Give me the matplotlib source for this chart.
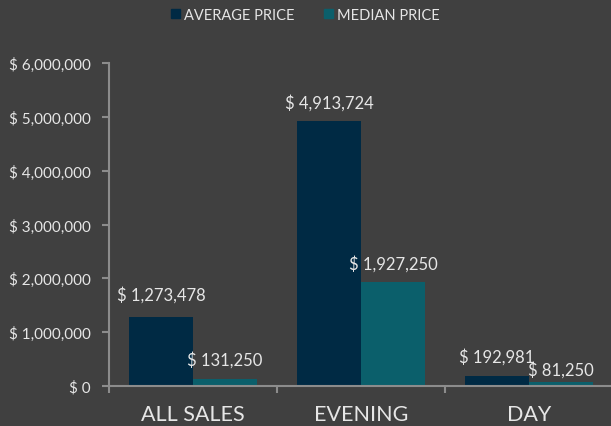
import matplotlib
matplotlib.use("Agg")
import matplotlib.pyplot as plt
import numpy as np
from matplotlib.ticker import FuncFormatter, FixedLocator
from matplotlib.patches import Rectangle

categories = ["ALL SALES", "EVENING", "DAY"]
average_price = [1273478, 4913724, 192981]
median_price = [131250, 1927250, 81250]
series_names = ["AVERAGE PRICE", "MEDIAN PRICE"]

bg = "#404040"
c_avg = "#002A44"
c_med = "#0B5F6B"
txt = "#E6E6E6"
axc = "#8C8C8C"

plt.rcParams['font.family'] = ['Lato', 'DejaVu Sans']

fig = plt.figure(figsize=(6.11, 4.27), dpi=100, facecolor=bg)
W, H = 611, 427
ax = fig.add_axes([109 / W, 1 - 387 / H, (613 - 109) / W, (387 - 64) / H])
ax.set_facecolor(bg)

x = np.arange(len(categories))
bw = 0.38
ax.bar(x - bw / 2, average_price, bw, color=c_avg, zorder=2)
ax.bar(x + bw / 2, median_price, bw, color=c_med, zorder=2)

ax.set_xlim(-0.5, len(categories) - 0.5)
ax.set_ylim(0, 6000000)
ax.yaxis.set_major_locator(FixedLocator(np.arange(0, 6000001, 1000000)))
ax.yaxis.set_major_formatter(FuncFormatter(lambda v, p: "$ {:,.0f}".format(v)))

ax.set_xticks(x)
ax.set_xticklabels(categories)
ax.set_xticks(np.arange(-0.5, len(categories), 1), minor=True)
ax.tick_params(axis='x', which='major', length=0, labelsize=15.5, colors=txt, pad=13)
ax.tick_params(axis='x', which='minor', length=5, width=1.5, color=axc)
ax.tick_params(axis='y', length=5, width=1.5, color=axc, labelsize=11, labelcolor=txt, pad=8)

for s in ['top', 'right']:
    ax.spines[s].set_visible(False)
for s in ['left', 'bottom']:
    ax.spines[s].set_color(axc)
    ax.spines[s].set_linewidth(1.5)

def fmt(v):
    return "$ {:,.0f}".format(v)

offsets_avg = [17, 14, 14]
offsets_med = [14, 14, 9]
for i in range(len(categories)):
    ax.annotate(fmt(average_price[i]), (x[i] - bw / 2, average_price[i]),
                xytext=(0, offsets_avg[i]), textcoords='offset points',
                ha='center', va='center', color=txt, fontsize=12)
    ax.annotate(fmt(median_price[i]), (x[i] + bw / 2, median_price[i]),
                xytext=(0, offsets_med[i]), textcoords='offset points',
                ha='center', va='center', color=txt, fontsize=12)

# legend
handles = [Rectangle((0, 0), 1, 1, color=c_avg), Rectangle((0, 0), 1, 1, color=c_med)]
fig.legend(handles, series_names, loc='center', bbox_to_anchor=(0.5, 1 - 16 / H),
           ncol=2, frameon=False, fontsize=10.5, labelcolor=txt,
           handlelength=0.6, handleheight=0.6, handletextpad=0.3, columnspacing=2.0)

fig.savefig("out.png", dpi=100, facecolor=bg)
